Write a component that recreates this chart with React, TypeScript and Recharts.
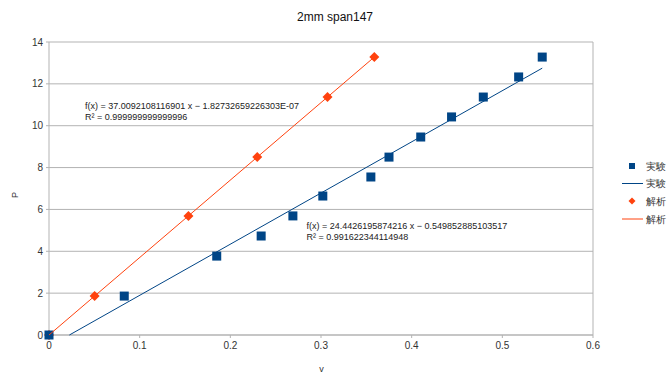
import React from "react";
import { ScatterChart, Scatter, XAxis, YAxis, CartesianGrid, ReferenceLine, ZAxis } from "recharts";

// 実験 (experiment) data
const expV = [0, 0.083, 0.185, 0.234, 0.269, 0.302, 0.355, 0.375, 0.41, 0.444, 0.479, 0.518, 0.544];
const expP = [0, 1.86, 3.77, 4.73, 5.69, 6.64, 7.55, 8.5, 9.46, 10.42, 11.37, 12.33, 13.28];
// 解析 (analysis) data
const anaV = [0, 0.0503, 0.1538, 0.2297, 0.3072, 0.3588];
const anaP = [0, 1.86, 5.69, 8.5, 11.37, 13.28];
// trend line endpoints (as drawn)
const expTrendV = [0.0225, 0.544];
const expTrendP = [0, 12.75];
const anaTrendV = [0, 0.3588];
const anaTrendP = [0, 13.28];

const xTicks = [0, 0.1, 0.2, 0.3, 0.4, 0.5, 0.6];
const yTicks = [0, 2, 4, 6, 8, 10, 12, 14];

const title = "2mm span147";
const xLabel = "v";
const yLabel = "P";
const expName = "実験";
const anaName = "解析";
const expEq = "f(x) = 24.4426195874216 x − 0.549852885103517";
const expR2 = "R² = 0.991622344114948";
const anaEq = "f(x) = 37.0092108116901 x − 1.82732659226303E-07";
const anaR2 = "R² = 0.999999999999996";

const BLUE = "#004586";
const ORANGE = "#ff420e";
const GRID = "#b3b3b3";
const FONT = "'Liberation Sans', Arial, sans-serif";

const zip = (xs: number[], ys: number[]) => xs.map((x, i) => ({ x, y: ys[i] }));
const expData = zip(expV, expP);
const anaData = zip(anaV, anaP);
const expTrend = zip(expTrendV, expTrendP);
const anaTrend = zip(anaTrendV, anaTrendP);

const SquareShape = (props: any) => {
  const { cx, cy } = props;
  if (cx == null || cy == null) return <g />;
  return <rect x={cx - 4.5} y={cy - 4.5} width={9} height={9} fill={BLUE} />;
};
const DiamondShape = (props: any) => {
  const { cx, cy } = props;
  if (cx == null || cy == null) return <g />;
  const r = 5;
  return (
    <polygon
      points={`${cx},${cy - r} ${cx + r},${cy} ${cx},${cy + r} ${cx - r},${cy}`}
      fill={ORANGE}
    />
  );
};
const NoShape = () => <g />;

const tickStyle = { fontFamily: FONT, fontSize: 10, fill: "#333" };

export default function App() {
  return (
    <div style={{ position: "absolute", left: 0, top: 0, width: 671, height: 383, background: "#fff" }}>
      <ScatterChart width={671} height={383} margin={{ top: 42, right: 78, bottom: 18, left: 0 }}>
        <CartesianGrid vertical={false} stroke={GRID} />
        <XAxis
          type="number"
          dataKey="x"
          domain={[0, 0.6]}
          ticks={xTicks}
          height={30}
          tick={tickStyle}
          tickSize={3}
          tickMargin={4}
          axisLine={{ stroke: GRID }}
          tickLine={{ stroke: GRID }}
        />
        <YAxis
          type="number"
          dataKey="y"
          domain={[0, 14]}
          ticks={yTicks}
          width={49}
          tick={tickStyle}
          tickSize={3}
          tickMargin={3}
          axisLine={{ stroke: GRID }}
          tickLine={{ stroke: GRID }}
        />
        <ZAxis range={[64, 64]} />
        <ReferenceLine x={0.6} stroke={GRID} />
        <Scatter data={anaData} shape={DiamondShape} isAnimationActive={false} />
        <Scatter data={expData} shape={SquareShape} isAnimationActive={false} />
        <Scatter
          data={expTrend}
          shape={NoShape}
          line={{ stroke: BLUE, strokeWidth: 1 }}
          isAnimationActive={false}
        />
        <Scatter
          data={anaTrend}
          shape={NoShape}
          line={{ stroke: ORANGE, strokeWidth: 1 }}
          isAnimationActive={false}
        />
      </ScatterChart>
      <svg
        width={671}
        height={383}
        style={{ position: "absolute", left: 0, top: 0, pointerEvents: "none" }}
        fontFamily={FONT}
      >
        <text x={335} y={21} textAnchor="middle" fontSize={12} fill="#111">{title}</text>
        <text x={321.5} y={371.5} textAnchor="middle" fontSize={9} fill="#333">{xLabel}</text>
        <text x={0} y={0} transform="translate(18,195) rotate(-90)" textAnchor="middle" fontSize={9} fill="#333">{yLabel}</text>

        <text x={85} y={109} fontSize={9} fill="#222">{anaEq}</text>
        <text x={85} y={119.5} fontSize={9} fill="#222">{anaR2}</text>
        <text x={306.5} y={229} fontSize={9} fill="#222">{expEq}</text>
        <text x={306.5} y={240} fontSize={9} fill="#222">{expR2}</text>

        <rect x={629} y={163} width={6} height={6} fill={BLUE} />
        <text x={646} y={169.5} fontSize={10} fill="#333">{expName}</text>
        <line x1={622} x2={643} y1={183.5} y2={183.5} stroke={BLUE} strokeWidth={1} />
        <text x={646} y={187} fontSize={10} fill="#333">{expName}</text>
        <polygon points="632,197.5 635.5,201 632,204.5 628.5,201" fill={ORANGE} />
        <text x={646} y={204.5} fontSize={10} fill="#333">{anaName}</text>
        <line x1={622} x2={643} y1={219} y2={219} stroke={ORANGE} strokeWidth={1} />
        <text x={646} y={222.5} fontSize={10} fill="#333">{anaName}</text>
      </svg>
    </div>
  );
}
